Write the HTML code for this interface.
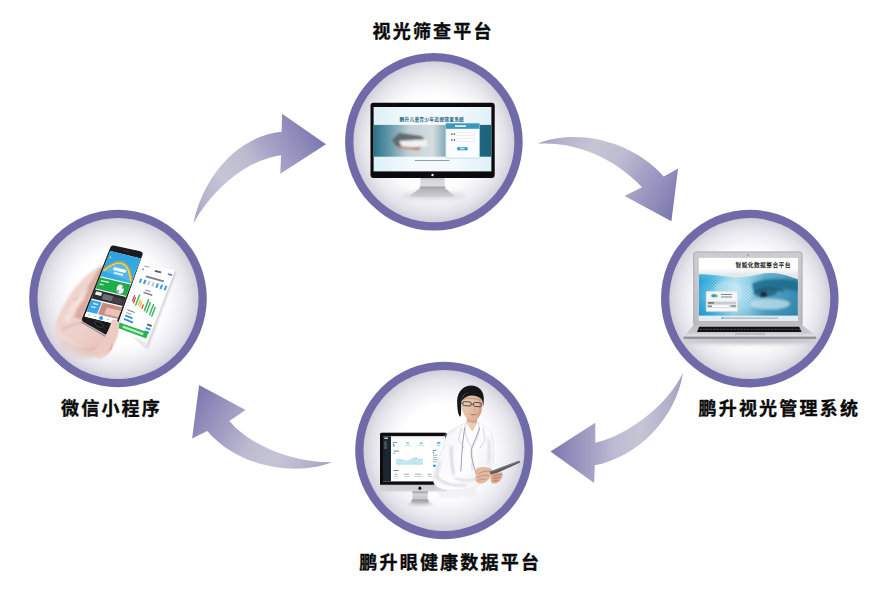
<!DOCTYPE html>
<html><head><meta charset="utf-8"><title>diagram</title>
<style>
html,body{margin:0;padding:0;background:#fff;}
body{width:896px;height:602px;overflow:hidden;font-family:"Liberation Sans",sans-serif;}
svg{display:block;}
</style></head><body>
<svg width="896" height="602" viewBox="0 0 896 602">
<defs>
<radialGradient id="gi" cx="0.5" cy="0.5" r="0.5">
<stop offset="0" stop-color="#ffffff"/><stop offset="0.56" stop-color="#ffffff"/>
<stop offset="0.66" stop-color="#f9f9fb"/><stop offset="0.78" stop-color="#efeff3"/><stop offset="0.9" stop-color="#e2e1e8"/><stop offset="1" stop-color="#d1d0da"/>
</radialGradient>
<linearGradient id="ga1" gradientUnits="userSpaceOnUse" x1="193" y1="224" x2="326" y2="144"><stop offset="0" stop-color="#a19ec3"/><stop offset="0.12" stop-color="#b4b2cc"/><stop offset="0.32" stop-color="#c6c5d5"/><stop offset="0.52" stop-color="#bdbbd1"/><stop offset="0.66" stop-color="#a8a5c7"/><stop offset="0.82" stop-color="#9490bd"/><stop offset="1" stop-color="#7b77af"/></linearGradient>
<linearGradient id="ga2" gradientUnits="userSpaceOnUse" x1="538" y1="144" x2="671" y2="221"><stop offset="0" stop-color="#a19ec3"/><stop offset="0.12" stop-color="#b4b2cc"/><stop offset="0.32" stop-color="#c6c5d5"/><stop offset="0.52" stop-color="#bdbbd1"/><stop offset="0.66" stop-color="#a8a5c7"/><stop offset="0.82" stop-color="#9490bd"/><stop offset="1" stop-color="#7b77af"/></linearGradient>
<linearGradient id="ga3" gradientUnits="userSpaceOnUse" x1="683" y1="412" x2="550" y2="412"><stop offset="0" stop-color="#a19ec3"/><stop offset="0.12" stop-color="#b4b2cc"/><stop offset="0.32" stop-color="#c6c5d5"/><stop offset="0.52" stop-color="#bdbbd1"/><stop offset="0.66" stop-color="#a8a5c7"/><stop offset="0.82" stop-color="#9490bd"/><stop offset="1" stop-color="#7b77af"/></linearGradient>
<linearGradient id="ga4" gradientUnits="userSpaceOnUse" x1="332" y1="462" x2="199" y2="385"><stop offset="0" stop-color="#a19ec3"/><stop offset="0.12" stop-color="#b4b2cc"/><stop offset="0.32" stop-color="#c6c5d5"/><stop offset="0.52" stop-color="#bdbbd1"/><stop offset="0.66" stop-color="#a8a5c7"/><stop offset="0.82" stop-color="#9490bd"/><stop offset="1" stop-color="#7b77af"/></linearGradient>

</defs>
<rect width="896" height="602" fill="#ffffff"/>
<g id="arrows">
<path fill="url(#ga1)" d="M193.4 223.5 C201 184 232 137 281.6 131.8 L282.1 113.7 L326 144.3 L280.3 173.8 L281.1 155.2 C246 160 212 190 193.4 223.5Z"/>
<path fill="url(#ga2)" d="M537.9 143.6 C572 129 630 138 663.7 176.5 L678.1 168.5 L671.4 221.3 L624.6 195.9 L642 187.2 C620 163.5 582 141 537.9 143.6Z"/>
<path fill="url(#ga3)" d="M682.9 372.9 C676 418 638 457 594.8 465.2 L594.1 482.9 L550.5 451.5 L595.3 422.8 L595.3 442.7 C630 434.2 667.5 404.5 682.9 372.9Z"/>
<path fill="url(#ga4)" d="M331.6 462.3 C298 476 240 469 207.2 430.9 L192.1 438.4 L199.1 385.1 L245.6 410 L229.3 420.9 C250 445 290 462 331.6 462.3Z"/>
</g>

<g id="circles"><circle cx="433.9" cy="141.8" r="88.8" fill="#706aa9"/><circle cx="433.9" cy="141.8" r="80.5" fill="url(#gi)"/><circle cx="118.0" cy="298.5" r="88.8" fill="#706aa9"/><circle cx="118.0" cy="298.5" r="80.5" fill="url(#gi)"/><circle cx="749.8" cy="298.6" r="88.8" fill="#706aa9"/><circle cx="749.8" cy="298.6" r="80.5" fill="url(#gi)"/><circle cx="444.0" cy="450.5" r="88.8" fill="#706aa9"/><circle cx="444.0" cy="450.5" r="80.5" fill="url(#gi)"/></g>
<g id="c-top">
<defs>
<linearGradient id="t-neck" x1="0" y1="0" x2="0" y2="1"><stop offset="0" stop-color="#b9b9be"/><stop offset="0.3" stop-color="#d7d7db"/><stop offset="1" stop-color="#dedee1"/></linearGradient>
<linearGradient id="t-base" x1="0" y1="0" x2="0" y2="1"><stop offset="0" stop-color="#b2b2b9"/><stop offset="0.6" stop-color="#c2c2c8"/><stop offset="1" stop-color="#d0d0d5"/></linearGradient>
<linearGradient id="t-ban" x1="0" y1="0" x2="1" y2="0"><stop offset="0" stop-color="#2c7088"/><stop offset="0.12" stop-color="#5c94a6"/><stop offset="0.3" stop-color="#c3d0d6"/><stop offset="0.5" stop-color="#d5dde1"/><stop offset="0.62" stop-color="#7da7b5"/><stop offset="0.72" stop-color="#2a6e86"/><stop offset="1" stop-color="#1d627b"/></linearGradient>
<linearGradient id="t-top" x1="0" y1="0" x2="1" y2="0"><stop offset="0" stop-color="#dcf0f8"/><stop offset="0.3" stop-color="#f3f9fc"/><stop offset="0.7" stop-color="#f3f9fc"/><stop offset="1" stop-color="#e0f1f8"/></linearGradient>
<filter id="b1" x="-20%" y="-20%" width="140%" height="140%"><feGaussianBlur stdDeviation="1"/></filter>
<filter id="b2" x="-20%" y="-50%" width="140%" height="200%"><feGaussianBlur stdDeviation="2"/></filter>
</defs>
<ellipse cx="432.8" cy="195.8" rx="33" ry="3.2" fill="#cbcad3" opacity="0.7" filter="url(#b2)"/>
<rect x="420.4" y="177.5" width="24.2" height="9.2" fill="url(#t-neck)"/>
<rect x="419.7" y="186.4" width="25.6" height="2.5" fill="#a5a5ab"/>
<path d="M419.1 188.7 L445.9 188.7 L453.8 195.5 Q454.2 196.9 452.6 196.9 L411.4 196.9 Q409.8 196.9 410.3 195.5Z" fill="url(#t-base)"/>
<rect x="370.5" y="102.7" width="124.2" height="75.2" rx="3" ry="3" fill="#0b0b0d"/>
<rect x="373.6" y="107" width="117.8" height="64.4" fill="url(#t-top)"/>
<rect x="373.5" y="124.9" width="117.9" height="31.8" fill="url(#t-ban)"/>
<g filter="url(#b1)" opacity="0.9">
<path d="M392 140 L399 133 L421 136 L428 142 L418 149 L396 146Z" fill="#59636a"/>
<path d="M399 141 L426 139.5 L428 146 L403 148.5Z" fill="#f6f7f8"/><circle cx="404" cy="142.6" r="1.3" fill="#fff"/><circle cx="416" cy="142" r="1.3" fill="#fff"/><circle cx="426" cy="141.4" r="1.3" fill="#fff"/>
<path d="M398 146 L420 148 L419 150 L399 148Z" fill="#c56a55"/>
</g>
<rect x="445.7" y="123.4" width="33.8" height="34.7" rx="0.8" fill="#fbfdfe" stroke="#a9d3e6" stroke-width="0.7"/>
<rect x="445.7" y="123.4" width="33.8" height="5.4" fill="#3c97bc"/>
<rect x="455" y="125.2" width="11" height="1.8" fill="#d9eef7"/>
<rect x="457.5" y="132.8" width="16.8" height="3" fill="#ffffff" stroke="#cfd8de" stroke-width="0.4"/>
<rect x="457.5" y="138.4" width="16.8" height="3.2" fill="#ffffff" stroke="#cfd8de" stroke-width="0.4"/>
<rect x="451.3" y="133.4" width="1.3" height="1.6" fill="#555"/><rect x="453.8" y="133.4" width="1.3" height="1.6" fill="#555"/>
<rect x="451.3" y="139.2" width="1.3" height="1.6" fill="#555"/><rect x="453.8" y="139.2" width="1.3" height="1.6" fill="#555"/>
<rect x="457.2" y="147.2" width="10.4" height="3.1" rx="0.5" fill="#2a9bc9"/>
<rect x="460" y="148.1" width="4.6" height="1.2" fill="#d8f0fa"/>
<text x="399.5" y="120.7" font-family="&quot;Liberation Sans&quot;, &quot;Noto Sans CJK SC&quot;, sans-serif" font-size="4.8" font-weight="bold" letter-spacing="0.17" fill="#1b6381">鹏升儿童青少年近视筛查系统</text>
<rect x="414.8" y="160" width="34.7" height="0.9" fill="#6e7b82" opacity="0.8"/>
<circle cx="432.5" cy="175" r="1.2" fill="#f4f4f4"/>
</g>
<g id="c-left">
<defs>
<linearGradient id="l-skin" gradientUnits="userSpaceOnUse" x1="60" y1="290" x2="125" y2="350"><stop offset="0" stop-color="#f0d6d0"/><stop offset="0.5" stop-color="#eed0c9"/><stop offset="1" stop-color="#e3bab2"/></linearGradient>
<radialGradient id="l-fade" gradientUnits="userSpaceOnUse" cx="106" cy="294" r="74"><stop offset="0" stop-color="#fff"/><stop offset="0.76" stop-color="#fff"/><stop offset="1" stop-color="#000"/></radialGradient>
<mask id="l-mask" maskUnits="userSpaceOnUse" x="30" y="210" width="180" height="180"><rect x="30" y="210" width="180" height="180" fill="url(#l-fade)"/></mask>
<filter id="lb1" x="-20%" y="-20%" width="140%" height="140%"><feGaussianBlur stdDeviation="1.2"/></filter>
<filter id="lb2" x="-20%" y="-20%" width="140%" height="140%"><feGaussianBlur stdDeviation="0.6"/></filter>
<linearGradient id="l-blue" gradientUnits="userSpaceOnUse" x1="108" y1="251" x2="120" y2="285"><stop offset="0" stop-color="#2b9fe0"/><stop offset="1" stop-color="#35b1ea"/></linearGradient>
</defs>
<g mask="url(#l-mask)">
<g filter="url(#lb1)">
<path d="M103 265 C96 268 88 273 78 284 C70 293 62 306 57 320 C53.5 332 54 344 58 352 C62 358 72 361 84 360 C96 359 108 352 116 340 L120 326 L112 318 L84 316 L98 288 L108 268Z" fill="url(#l-skin)"/>
<path d="M105 267 L92 294 L81 320 L74 317 L86 290 L99 268Z" fill="#d6a59b" opacity="0.85"/>
<path d="M74 300 C80 296 86 294 92 293 M66 314 C72 310 79 308 86 307 M61 330 C68 326 75 324 82 323" stroke="#d9aaa0" stroke-width="1.6" fill="none" opacity="0.8"/>
<path d="M60 338 C66 344 76 348 88 348 C98 348 106 344 112 338 L108 350 C98 358 76 360 62 352Z" fill="#e0b4ab" opacity="0.75"/>
<path d="M64 318 C70 306 78 296 88 288 L84 300 C78 306 72 314 68 324Z" fill="#f6e4de" opacity="0.8"/>
</g></g>
<path d="M113.1 248.5 L139.6 254.1 L111.0 334.2 L84.9 319.3Z" fill="#1b1b1e" stroke="#1b1b1e" stroke-width="6" stroke-linejoin="round"/>
<path d="M81.5 322.3 L111.6 339.9" stroke="#8d8d92" stroke-width="1.3" stroke-linecap="round" fill="none"/>
<path d="M110.3 251.0 L140.7 258.4 L115.8 323.9 L84.6 316.4 Z" fill="#ffffff" />
<path d="M110.3 251.0 L140.7 258.4 L131.1 283.6 L100.4 276.2 Z" fill="url(#l-blue)" />
<g filter="url(#lb2)">
<path d="M103.5 270.8 Q127.6 250.9 131.1 281.8 Z" fill="#55b8e8"/>
<path d="M103.5 270.8 Q127.6 250.9 131.1 281.8" stroke="#f4d23c" stroke-width="1.7" fill="none"/>
<path d="M103.0 269.6 Q128.8 248.0 132.2 280.7" stroke="#f0903a" stroke-width="0.9" fill="none"/>
<circle cx="110.4" cy="257.5" r="0.9" fill="#f6d23a"/>
<path d="M114.1 267.0 L126.3 269.9 L125.2 272.9 L112.9 269.9 Z" fill="#ffffff" opacity="0.95"/>
<path d="M114.3 271.7 L123.4 273.9 L122.7 275.9 L113.5 273.6 Z" fill="#ffffff" opacity="0.8"/>
</g>
<path d="M100.0 277.2 L130.7 284.6 L126.4 296.1 L95.5 288.6 Z" fill="#1fae49" />
<path d="M101.0 279.9 L109.0 281.8 L108.5 283.1 L100.5 281.2 Z" fill="#d9f5e1" />
<path d="M99.6 283.5 L103.9 284.5 L103.5 285.5 L99.2 284.5 Z" fill="#d9f5e1" />
<ellipse cx="120.2" cy="289.2" rx="3.6" ry="4.6" fill="#f4f6fb" filter="url(#lb2)"/>
<circle cx="122.8" cy="287.7" r="1" fill="#e25a6a"/>
<circle cx="118.3" cy="290.9" r="0.9" fill="#3f7fd6"/>
<path d="M95.1 289.6 L126.0 297.0 L122.6 305.9 L91.7 298.4 Z" fill="#2b2c30" />
<g filter="url(#lb2)">
<path d="M96.2 291.3 L102.3 292.8 L101.1 296.0 L94.9 294.5 Z" fill="#f0f0f0" />
<path d="M103.6 293.8 L113.5 296.2 L111.5 301.4 L101.6 299.0 Z" fill="#6d6e78" />
<path d="M113.3 296.8 L123.5 299.3 L121.5 304.5 L111.3 302.1 Z" fill="#4a3f46" />
</g>
<path d="M91.2 299.7 L101.7 302.3 L97.1 314.0 L86.5 311.5 Z" fill="#3aa5e2" />
<path d="M93.4 302.8 L98.3 304.0 L97.8 305.3 L92.8 304.1 Z" fill="#d6eefa" />
<path d="M91.5 305.9 L95.8 306.9 L95.3 308.2 L90.9 307.2 Z" fill="#d6eefa" />
<path d="M102.6 302.5 L122.1 307.2 L117.7 319.0 L98.0 314.3 Z" fill="#c98b84" />
<g filter="url(#lb2)"><path d="M106.8 307.4 L120.8 310.8 L118.3 317.3 L104.3 314.0 Z" fill="#e9c4b6" /></g>
<path d="M86.3 312.1 L117.4 319.6 L115.8 323.9 L84.6 316.4 Z" fill="#fbfbfc" />
<circle cx="101.1" cy="317.9" r="2" fill="#2f9fe6"/>
<circle cx="89.2" cy="315.0" r="0.7" fill="#9aa7b3"/>
<circle cx="94.9" cy="316.4" r="0.7" fill="#9aa7b3"/>
<circle cx="107.9" cy="319.5" r="0.7" fill="#9aa7b3"/>
<circle cx="113.6" cy="320.9" r="0.7" fill="#9aa7b3"/>
<path d="M123.7 250.7 L128.9 251.9" stroke="#3c3c42" stroke-width="0.9" fill="none" stroke-linecap="round"/>
<ellipse cx="98.9" cy="324.3" rx="4.8" ry="2.1" transform="rotate(28 98.9 324.3)" fill="#141416" stroke="#55555c" stroke-width="0.6"/>
<path d="M143.6 262.6 L175.0 270.2 L146.4 347.5 L119.0 323.0 Z" fill="#9a9aa6" opacity="0.45" filter="url(#lb1)" transform="translate(1.2 1.5)"/>
<path d="M143.6 262.6 L175.0 270.2 L146.4 347.5 L119.0 323.0 Z" fill="#e9e9ee" />
<path d="M143.6 262.6 L175.0 270.2 L146.8 342.8 L118.0 329.8 Z" fill="#ffffff" />
<path d="M144.6 265.4 L149.6 266.7 L149.2 267.7 L144.2 266.4 Z" fill="#9aa0a8" />
<path d="M155.2 270.0 L161.4 271.5 L160.8 273.3 L154.5 271.7 Z" fill="#55606c" />
<path d="M168.3 273.3 L172.4 274.3 L171.7 276.1 L167.6 275.1 Z" fill="#6b7fd0" />
<path d="M142.4 268.6 L144.2 269.0 L143.8 270.1 L142.0 269.6 Z" fill="#666" />
<path d="M140.4 271.0 L171.5 279.3 L171.3 279.6 L140.3 271.3 Z" fill="#e4e6ea" />
<path d="M146.2 275.6 L164.2 280.5 L163.5 282.3 L145.5 277.3 Z" fill="#7b8088" />
<path d="M140.3 278.4 L142.3 279.0 L140.7 283.1 L138.8 282.5 Z" fill="#3b9be0" />
<path d="M144.5 279.6 L146.5 280.2 L144.9 284.3 L142.9 283.7 Z" fill="#3b9be0" />
<path d="M148.6 280.8 L150.6 281.4 L149.0 285.5 L147.0 285.0 Z" fill="#b9c7d6" />
<path d="M152.8 282.0 L154.8 282.6 L153.2 286.8 L151.2 286.2 Z" fill="#b9c7d6" />
<path d="M156.9 283.2 L158.9 283.8 L157.3 288.0 L155.3 287.4 Z" fill="#3b9be0" />
<path d="M161.1 284.4 L163.1 284.9 L161.4 289.2 L159.5 288.7 Z" fill="#3b9be0" />
<path d="M165.3 285.6 L167.3 286.1 L165.6 290.5 L163.6 289.9 Z" fill="#3b9be0" />
<path d="M145.6 289.5 L150.5 291.1 L150.1 292.1 L145.2 290.6 Z" fill="#8a8f98" />
<path d="M143.8 291.7 L152.6 294.5 L152.0 295.9 L143.2 293.0 Z" fill="#7b8088" />
<path d="M134.0 295.0 L135.3 295.5 L133.0 301.6 L131.7 301.1 Z" fill="#d9534f" />
<path d="M135.0 296.9 L136.3 297.3 L134.0 303.5 L132.6 303.0 Z" fill="#d9534f" />
<path d="M139.0 294.4 L140.4 294.8 L136.1 305.8 L134.8 305.3 Z" fill="#2fb457" />
<path d="M139.8 299.3 L141.2 299.8 L138.9 305.6 L137.6 305.1 Z" fill="#f0c232" />
<path d="M141.1 301.3 L142.5 301.8 L140.3 307.3 L139.0 306.8 Z" fill="#f0c232" />
<path d="M142.7 304.2 L144.1 304.7 L142.4 308.9 L141.1 308.4 Z" fill="#d9534f" />
<path d="M148.1 299.0 L149.5 299.4 L144.9 311.4 L143.5 310.9 Z" fill="#2fb457" />
<path d="M149.7 301.9 L151.1 302.3 L147.0 313.0 L145.7 312.5 Z" fill="#2fb457" />
<path d="M153.1 303.8 L154.4 304.3 L150.1 315.4 L148.8 314.9 Z" fill="#2fb457" />
<path d="M154.7 306.8 L156.0 307.3 L152.2 317.0 L150.9 316.5 Z" fill="#2fb457" />
<path d="M127.5 309.2 L134.9 312.0 L134.6 313.1 L127.2 310.2 Z" fill="#7b8088" />
<path d="M126.5 311.9 L131.5 313.9 L131.1 314.9 L126.1 312.9 Z" fill="#9aa0a8" />
<path d="M125.5 314.6 L132.8 317.5 L132.2 319.2 L124.8 316.3 Z" fill="#2f8fd8" />
<path d="M147.5 323.4 L152.0 325.2 L151.3 327.0 L146.9 325.2 Z" fill="#555c66" />
<path d="M124.2 318.0 L133.3 321.7 L132.6 323.4 L123.6 319.7 Z" fill="#2f8fd8" />
<path d="M146.2 327.0 L150.6 328.8 L149.9 330.6 L145.5 328.8 Z" fill="#2f8fd8" />
<path d="M144.9 330.2 L149.3 332.0 L148.6 333.8 L144.2 332.0 Z" fill="#2f8fd8" />
<path d="M119.6 322.4 L148.2 332.6 L146.4 338.4 L117.9 327.9 Z" fill="#2bb44c" />
<path d="M123.1 325.5 L143.7 332.9 L142.9 335.2 L122.4 327.7 Z" fill="#c9f0d2" opacity="0.9"/>
<g mask="url(#l-mask)"><g filter="url(#lb2)">
<path d="M112 320 C116 318 120 322 119 327 L114 344 C112 352 106 358 98 360 L92 352 C100 346 106 336 110 326Z" fill="#eccbc4"/>
<path d="M112.5 340 L111 346 C108 352 104 356 98 358 L112 349Z" fill="#d9aea6" opacity="0.8"/>
</g></g>
</g><g id="c-right">
<defs>
<linearGradient id="r-blue" x1="0" y1="0" x2="1" y2="0"><stop offset="0" stop-color="#27a2d6"/><stop offset="0.14" stop-color="#3fb0de"/><stop offset="0.36" stop-color="#a4daee"/><stop offset="0.5" stop-color="#8fd0e8"/><stop offset="0.66" stop-color="#4fa5c8"/><stop offset="1" stop-color="#3187ab"/></linearGradient>
<linearGradient id="r-lid" x1="0" y1="0" x2="0" y2="1"><stop offset="0" stop-color="#cdcdd0"/><stop offset="1" stop-color="#bcbcc0"/></linearGradient>
<linearGradient id="r-base" x1="0" y1="0" x2="0" y2="1"><stop offset="0" stop-color="#bebec3"/><stop offset="0.6" stop-color="#c9c9cd"/><stop offset="0.78" stop-color="#e2e2e5"/><stop offset="0.9" stop-color="#b4b4b9"/><stop offset="1" stop-color="#8d8d93"/></linearGradient>
<linearGradient id="r-vshade" x1="0" y1="0" x2="0" y2="1"><stop offset="0" stop-color="#ffffff" stop-opacity="0.18"/><stop offset="0.2" stop-color="#ffffff" stop-opacity="0"/><stop offset="1" stop-color="#0d5f8a" stop-opacity="0.15"/></linearGradient>
<linearGradient id="r-white" x1="0" y1="0" x2="0" y2="1"><stop offset="0" stop-color="#ffffff"/><stop offset="0.16" stop-color="#ffffff"/><stop offset="0.27" stop-color="#e3e8ea"/><stop offset="1" stop-color="#e3e8ea"/></linearGradient>
<filter id="rb1" x="-30%" y="-30%" width="160%" height="160%"><feGaussianBlur stdDeviation="1.3"/></filter>
<filter id="rb2" x="-10%" y="-100%" width="120%" height="300%"><feGaussianBlur stdDeviation="2.2"/></filter>
<pattern id="r-dots" width="2.3" height="2.3" patternUnits="userSpaceOnUse" patternTransform="rotate(45)"><circle cx="1.15" cy="1.15" r="0.72" fill="#ffffff"/></pattern>
<radialGradient id="r-dfade" gradientUnits="userSpaceOnUse" cx="728" cy="296" r="34" gradientTransform="translate(0 100) scale(1 0.66)"><stop offset="0" stop-color="#fff"/><stop offset="0.55" stop-color="#fff" stop-opacity="0.8"/><stop offset="1" stop-color="#fff" stop-opacity="0"/></radialGradient>
<mask id="r-dmask" maskUnits="userSpaceOnUse" x="698" y="272" width="100" height="45"><rect x="698" y="272" width="100" height="45" fill="url(#r-dfade)"/></mask>
<clipPath id="r-scr"><rect x="698.8" y="257.9" width="99.1" height="63"/></clipPath>
</defs>
<ellipse cx="750" cy="340.5" rx="66" ry="3.2" fill="#9e9da9" opacity="0.7" filter="url(#rb2)"/>
<rect x="693.7" y="251.9" width="108.4" height="74" rx="2.6" fill="url(#r-lid)" stroke="#94949a" stroke-width="0.7"/>
<rect x="698.8" y="257.9" width="99.1" height="63" fill="url(#r-white)"/>
<g clip-path="url(#r-scr)">
<path d="M698.8 274.4 C710 273.6 722 276.6 734.8 277.4 C748 278 760 272.6 771.5 272.9 C782 273.2 790 276.4 797.9 279.2 L797.9 315.8 L698.8 315.8Z" fill="url(#r-blue)"/>
<path d="M698.8 274.4 C710 273.6 722 276.6 734.8 277.4 C748 278 760 272.6 771.5 272.9 C782 273.2 790 276.4 797.9 279.2 L797.9 315.8 L698.8 315.8Z" fill="url(#r-vshade)"/>
<g mask="url(#r-dmask)"><path d="M698.8 274.4 C710 273.6 722 276.6 734.8 277.4 C748 278 760 272.6 771.5 272.9 C782 273.2 790 276.4 797.9 279.2 L797.9 315.8 L698.8 315.8Z" fill="url(#r-dots)" opacity="0.75"/></g>
<g filter="url(#rb1)">
<path d="M752 284 C760 279 780 278 798 281 L798 292 C786 288 768 287 754 292Z" fill="#1f6d8e" opacity="0.9"/>
<ellipse cx="766" cy="292.5" rx="12" ry="4.2" fill="#2a6785" opacity="0.9" transform="rotate(-5 766 292.5)"/>
<ellipse cx="763.6" cy="294.4" rx="3.6" ry="3.2" fill="#143347"/>
<path d="M754 293 C760 288 772 286.5 784 291" stroke="#1c4f6a" stroke-width="1.5" fill="none"/>
<ellipse cx="770" cy="304" rx="20" ry="5.5" fill="#cfe6f0" opacity="0.7"/>
<ellipse cx="728" cy="292" rx="14" ry="12" fill="#d8f0f8" opacity="0.35"/>
</g>
<rect x="698.8" y="315.8" width="99.1" height="5.1" fill="#e3edf1"/>
<rect x="722" y="317.6" width="56" height="1" fill="#7d8f99" opacity="0.75"/>
<circle cx="722.5" cy="318.1" r="0.9" fill="#2f9fd4"/>
</g>
<rect x="706.1" y="291.2" width="31.5" height="20.4" rx="0.8" fill="#f3f5f6" stroke="#c9d2d7" stroke-width="0.5"/>
<ellipse cx="714.2" cy="295.7" rx="3" ry="1.6" fill="#3a9ad0"/><ellipse cx="716.2" cy="296.2" rx="1.6" ry="1.1" fill="#7cc142"/>
<rect x="721" y="294" width="11" height="1" fill="#7c8992"/><rect x="721" y="296.5" width="11" height="1" fill="#7c8992"/>
<rect x="707.5" y="301.6" width="28.5" height="2.6" fill="#c7ccd0"/>
<rect x="708" y="302.3" width="6" height="1.2" fill="#4c545a"/>
<rect x="707.5" y="304.9" width="21.5" height="2.4" fill="#ffffff" stroke="#aeb6bb" stroke-width="0.4"/>
<rect x="708" y="305.6" width="4" height="1.1" fill="#4c545a"/>
<rect x="730.3" y="304.9" width="5.8" height="2.4" fill="#9aa3a9"/>
<text x="735.5" y="267" font-family="&quot;Liberation Sans&quot;, &quot;Noto Sans CJK SC&quot;, sans-serif" font-size="5.8" font-weight="bold" letter-spacing="0.35" fill="#1d1d22">智能化数据整合平台</text>
<circle cx="748" cy="254.9" r="0.6" fill="#55555a"/>
<path d="M693.7 325 L802.1 325 L816.1 336.2 L816.1 338.2 L683.7 338.2 L683.7 336.2Z" fill="url(#r-base)"/>
<path d="M699.2 326.8 L799.2 326.8 L801.6 331.9 L697 331.9Z" fill="#111114"/>
<path d="M699.5 329.3 L801 329.3" stroke="#6a6b72" stroke-width="0.7" stroke-dasharray="2.4 1" opacity="0.9"/>
<rect x="735" y="332.8" width="30" height="2" fill="#b6b6bb" opacity="0.9"/>
<rect x="683.7" y="337.6" width="132.4" height="1" fill="#77777d"/>
</g>
<g id="c-bottom">
<defs>
<linearGradient id="b-chin" x1="0" y1="0" x2="0" y2="1"><stop offset="0" stop-color="#a6a6ac"/><stop offset="0.75" stop-color="#bcbcc1"/><stop offset="1" stop-color="#d6d6d9"/></linearGradient>
<linearGradient id="b-neck" x1="0" y1="0" x2="0" y2="1"><stop offset="0" stop-color="#a5a5ab"/><stop offset="0.4" stop-color="#d4d4d7"/><stop offset="1" stop-color="#c0c0c4"/></linearGradient>
<linearGradient id="b-coat" gradientUnits="userSpaceOnUse" x1="436" y1="440" x2="498" y2="470"><stop offset="0" stop-color="#f4f4f7"/><stop offset="0.5" stop-color="#ffffff"/><stop offset="1" stop-color="#eeeef2"/></linearGradient>
<linearGradient id="b-skin" x1="0" y1="0" x2="1" y2="1"><stop offset="0" stop-color="#f1d3c0"/><stop offset="1" stop-color="#dba98f"/></linearGradient>
<filter id="bb1" x="-30%" y="-30%" width="160%" height="160%"><feGaussianBlur stdDeviation="0.9"/></filter>
<filter id="bb2" x="-30%" y="-30%" width="160%" height="160%"><feGaussianBlur stdDeviation="0.45"/></filter>
<filter id="bb3" x="-20%" y="-100%" width="140%" height="300%"><feGaussianBlur stdDeviation="1.6"/></filter>
</defs>
<!-- monitor -->
<ellipse cx="420.2" cy="503.6" rx="12" ry="1.5" fill="#a2a1ad" opacity="0.7" filter="url(#bb3)"/>
<path d="M412.4 491 L427.8 491 L427.6 500 L412.6 500Z" fill="url(#b-neck)"/><rect x="412.4" y="491.4" width="15.4" height="0.9" fill="#85858b"/>
<path d="M411.8 499.8 L428.4 499.8 L428.8 503.2 L411.4 503.2Z" fill="#b2b2b8"/><rect x="411.8" y="499.8" width="16.6" height="0.8" fill="#8a8a90"/>
<rect x="380" y="432.8" width="67" height="58.8" rx="1.6" fill="url(#b-chin)"/>
<path d="M381.6 432.8 L445.4 432.8 Q447 432.8 447 434.4 L447 484.7 L380 484.7 L380 434.4 Q380 432.8 381.6 432.8Z" fill="#0c0c0f"/>
<rect x="383" y="436.4" width="62" height="45" fill="#ffffff"/>
<rect x="383" y="436.4" width="8" height="45" fill="#1a2630"/>
<rect x="384.3" y="437.6" width="3.6" height="1.3" fill="#d9e3ea"/>
<rect x="384.3" y="441.6" width="2.2" height="0.8" fill="#8fa0ad"/><rect x="384.3" y="443.6" width="2.6" height="0.8" fill="#8fa0ad"/><rect x="384.3" y="445.6" width="2.2" height="0.8" fill="#8fa0ad"/><rect x="384.3" y="447.6" width="2.6" height="0.8" fill="#8fa0ad"/>
<rect x="391" y="436.4" width="54" height="3" fill="#f3f6f8"/>
<!-- cards -->
<rect x="393" y="442" width="4.2" height="1" fill="#8b97a1"/><rect x="393" y="444" width="1.4" height="2.6" fill="#3aa0dc"/>
<rect x="406.4" y="442.2" width="2.6" height="1.8" fill="#8fd6b0"/><rect x="405" y="445.2" width="5.6" height="0.8" fill="#b5e2cb"/>
<rect x="419.8" y="442.2" width="3" height="1.8" fill="#8fd6b0"/><rect x="418.4" y="445.2" width="5.8" height="0.8" fill="#b5e2cb"/>
<rect x="437" y="441.8" width="3.4" height="2.2" fill="#6fbce8"/><rect x="436.8" y="445.2" width="3.6" height="0.9" fill="#8ccaee"/>
<path d="M401.6 441 L401.6 447 M415 441 L415 447 M431.4 441 L431.4 447" stroke="#e6eaee" stroke-width="0.4"/>
<!-- chart -->
<rect x="393.6" y="450.6" width="5.4" height="1" fill="#7b8893"/><rect x="393.6" y="452.8" width="1.2" height="1.2" fill="#3aa0dc"/>
<path d="M395.9 464.7 L395.9 460.2 C398 458.2 400.5 458.8 402.5 459.6 C405 460.6 406.8 460.9 409 460.2 C411.4 459.2 413 457.2 415.3 457 C417.5 456.9 419 459.3 420.6 459.1 C421.8 458.9 422.4 458 422.8 457.6 L422.8 464.7Z" fill="#bfe4f1"/>
<path d="M398.5 461.7h.01M402.2 462.3h.01M406 462.6h.01M409.8 462h.01M413.4 461h.01M417 461h.01M420.4 461.4h.01" stroke="#fff" stroke-width="0.9" stroke-linecap="round"/>
<path d="M395.5 466.2 H423.5" stroke="#c9d0d6" stroke-width="0.5" stroke-dasharray="0.8 3"/>
<rect x="432.8" y="450" width="3.6" height="1" fill="#7b8893"/><rect x="432.8" y="452.2" width="1.4" height="1.4" fill="#3aa0dc"/>
<path d="M433 455.2h4.6M433 457.4h4M433 459.6h4.6M433 461.8h3.6" stroke="#8d99a3" stroke-width="0.8"/>
<rect x="433" y="464.8" width="2.8" height="2" fill="#2b95d6"/>
<!-- bottom row -->
<rect x="393.6" y="470" width="5" height="1" fill="#7b8893"/>
<path d="M394.4 474.2h3.4M403.8 474.2h5.4M415 474.2h6.4M427.6 474.2h4" stroke="#a4adb5" stroke-width="1.1"/>
<path d="M393.8 476.6h4.8M403.8 476.6h5.8M414.4 476.6h8M427.4 476.6h4.4" stroke="#b0b8bf" stroke-width="0.7"/>
<path d="M393.6 478.6h4" stroke="#c2c9cf" stroke-width="0.5"/>
<ellipse cx="419.9" cy="488.3" rx="1.5" ry="1.7" fill="#141417"/>
<!-- doctor reflection -->
<path d="M436 490 L478 489 L476 497 L440 498Z" fill="#e9e9ee" opacity="0.55" filter="url(#bb1)"/>
<!-- coat -->
<g>
<path d="M466 422 L478 422 C483 425.5 488 428 490.5 431 C493 436 494.2 446 494 456 C493.8 462 492.5 466 491 469 L486 474 L478 486 C474 489.5 462 490.5 450 490.2 C442 490 436.5 488 434.3 484 C432.6 480.5 433 476 434.2 472 C436.8 464 441.4 451 444.4 441.5 C445.6 436 448.6 432 452.5 429.5Z" fill="url(#b-coat)" stroke="#d9d9e0" stroke-width="0.5"/>
<g filter="url(#bb1)" fill="none" stroke-linecap="round">
<path d="M451.5 447 C451 456 452 466 453.5 474" stroke="#c9cad4" stroke-width="1.8"/>
<path d="M436.5 476 C440 482 450 486 466 485.5" stroke="#cfd0d9" stroke-width="1.6"/>
<path d="M440 462 C438.5 468 437 473 436 478" stroke="#d6d7df" stroke-width="2"/>
<path d="M488.5 440 C489.5 448 489.5 456 488.5 463" stroke="#d2d3dc" stroke-width="1.6"/>
<path d="M455 478 C462 481 470 481 476 479" stroke="#d3d4dc" stroke-width="1.5"/>
<path d="M445 437 C447 433 451 431 455 430" stroke="#dcdce3" stroke-width="1.2"/>
</g>
<!-- lapels / collar -->
<g filter="url(#bb2)" fill="none" stroke="#cbccd6" stroke-width="0.8" stroke-linecap="round">
<path d="M465.5 423.5 C464 430 465.5 438 470.5 446"/>
<path d="M478.5 423.5 C480.5 430 478 438 473.5 446"/>
<path d="M472 446 L472 470"/>
<path d="M461.5 428 L458.5 440 L464 448"/>
<path d="M483 428 L485 440 L480 448"/>
</g>
<!-- stethoscope -->
<g fill="none" stroke="#9da0ae" stroke-width="1" stroke-linecap="round" filter="url(#bb2)">
<path d="M464.8 428 C463 438 462 450 460.8 471"/>
<path d="M479.6 428 C476 440 470.5 446 471.2 454 C472 460 474.5 468 475.8 473"/>
</g>
</g>
<!-- neck -->
<path d="M467 414 L476.5 414 L477.2 423 L472.4 431.5 L466.4 423Z" fill="#eccab5"/>
<path d="M467 416.5 C470 420 474 420.5 476.8 418.5 L477 422 C474 423.5 470 423 467 420.5Z" fill="#c99a82" opacity="0.8" filter="url(#bb2)"/>
<!-- hair back -->
<path d="M457.2 404 C456.2 394 462 385.8 470.8 385.6 C478.8 385.5 484 391 483.8 399 C483.7 402 483.6 404 483.2 406 L480 396 L466 393 L461.5 401 L461 412 C461.5 415 460.5 417 459.6 416.6 C457.6 413 457.4 408 457.2 404Z" fill="#17171a"/>
<!-- face -->
<path d="M461.6 400 C462.5 394 467 391.6 472.6 392 C478.6 392.4 482.4 396.4 482.6 402.4 C482.8 408 481.6 413.6 478.6 417.6 C476.6 420.2 473.6 421.6 470.6 420.6 C466.6 419.2 463.2 414.6 462 409.6 C461.3 406.4 461.2 403 461.6 400Z" fill="url(#b-skin)"/>
<path d="M478.6 398 C481.5 402 482.6 408 480.6 414 C479.4 416.6 478 418 476.6 419 C479 414 479.6 406 478.6 398Z" fill="#c9957b" opacity="0.55" filter="url(#bb2)"/>
<path d="M462.4 398.5 C466 396.8 474 396.6 481.6 399.4 L481.8 401 C474 398.6 467 398.8 462.2 400.6Z" fill="#b98368" opacity="0.5" filter="url(#bb2)"/>
<!-- fringe -->
<path d="M461 402 C462 395 466.5 391 472.8 391.2 C478.6 391.4 482.6 395 483.2 401 C480.5 397.5 476.5 395.4 471.5 395.6 C467.2 395.8 463.6 398 461 402Z" fill="#17171a"/>
<!-- glasses -->
<g fill="none" stroke="#2a2a30" stroke-width="0.75">
<rect x="462.9" y="401.8" width="8.2" height="4" rx="1.1" transform="rotate(4 467 403.8)"/>
<rect x="473.6" y="402.6" width="7.6" height="4" rx="1.1" transform="rotate(4 477.4 404.6)"/>
<path d="M471.1 404 L473.6 404.2M462.9 403.2 L460.2 402.6"/>
</g>
<path d="M469.6 413.2 C472 414.6 475.4 414.6 477.8 412.8 C476.4 415.8 471.6 416.2 469.6 413.2Z" fill="#8e3f3a"/>
<path d="M470.3 413.6 C472.4 414.4 475.2 414.3 477.1 413.3" stroke="#f7eeea" stroke-width="0.5" fill="none"/>
<path d="M474.6 406.6 L475.6 410.4 L473.6 410.6" stroke="#c9977f" stroke-width="0.5" fill="none"/>
<!-- tablet + hands -->
<g filter="url(#bb2)">
<path d="M475.6 469.4 C478 467.2 483 466.4 488 467.6 C491.4 468.4 493.2 470.4 492.6 473 C491.6 477 487.6 481.6 483 483.2 C479.2 484.4 475.8 483.2 475.4 479.6Z" fill="#e4b9a1"/>
<path d="M478 474 C481 471.6 486 470.6 490 471.6 M477.2 477.6 C480.2 475.6 485 474.8 488.8 475.6 M477.6 480.8 C480 479.2 483.6 478.6 486.6 479.2" stroke="#b9836a" stroke-width="0.7" fill="none"/>
<path d="M489.8 471.4 L518.8 460.8 L520.2 461.4 L520.2 462.4 L492.6 475 L490 473.4Z" fill="#585b63"/>
<path d="M490.4 472.2 L519.6 461.2" stroke="#8d9099" stroke-width="0.6"/>
<path d="M492.4 474 C495.6 473 499.6 472.2 502.2 472.6 C503.4 474.8 502.2 478.6 499.6 481.2 C497 483.6 493.4 484.2 491.4 482.6 C490 480.2 490.6 476.6 492.4 474Z" fill="#d9a88f"/>
<path d="M493.6 476 L501.2 474.4M493 478.6 L500.2 477.2M493.4 481 L498.4 480" stroke="#a9715a" stroke-width="0.7" fill="none"/>
</g>
</g>

<g id="labels" fill="#0a0a0a" stroke="#0a0a0a" stroke-width="0.35" stroke-linejoin="round" font-family="&quot;Liberation Sans&quot;, &quot;Noto Sans CJK SC&quot;, sans-serif" font-size="18" font-weight="bold" letter-spacing="2.2">
<text x="372.5" y="37.5">视光筛查平台</text>
<text x="61" y="415">微信小程序</text>
<text x="698.5" y="415">鹏升视光管理系统</text>
<text x="359.3" y="569.4">鹏升眼健康数据平台</text>
</g>
</svg>
</body></html>
